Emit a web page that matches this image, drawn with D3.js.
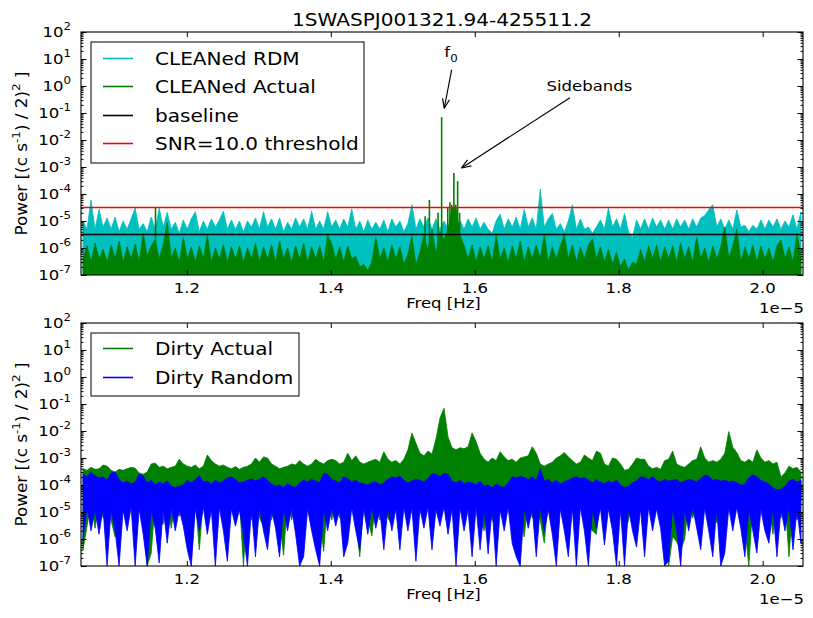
<!DOCTYPE html>
<html>
<head>
<meta charset="utf-8">
<script src="https://cdn.jsdelivr.net/npm/d3@7"></script>
<style>
body { margin: 0; background: #fff; }
text { font-family: "DejaVu Sans", sans-serif; fill: #000; }
</style>
</head>
<body>
<svg id="fig" width="813" height="618"></svg>
<script>
"use strict"

var TITLE = "1SWASPJ001321.94-425511.2";

// periodogram frequency grid (Hz), 180 bins across the plotted range
var FREQ_MIN = 1.053e-5;
var FREQ_MAX = 2.056e-5;
var N_BINS = 180;

var xTicks = [1.2e-5, 1.4e-5, 1.6e-5, 1.8e-5, 2.0e-5];
var xTickLabels = ["1.2", "1.4", "1.6", "1.8", "2.0"];
var yDecades = [-7, -6, -5, -4, -3, -2, -1, 0, 1, 2];

var BASELINE = 3.2e-6;
var SNR = 10.0;

// CLEANed RDM (power per bin)
var rdmClean = [
    1e-5, 5e-6, 6e-5, 5e-6, 2.7e-5, 6e-6, 1.3e-5, 5e-6, 1.4e-5, 4e-6,
    1e-5, 5e-6, 1.2e-5, 3e-5, 5e-6, 8e-6, 4e-6, 1.4e-5, 5e-6, 3e-5,
    6e-6, 2.1e-5, 5e-6, 9e-6, 3.5e-6, 1.1e-5, 5e-6, 1.2e-5, 2.2e-5, 4e-6,
    1e-5, 5e-6, 1.2e-5, 6e-6, 1.1e-5, 2.3e-5, 5e-6, 1.1e-5, 5e-6, 1e-5,
    4e-6, 1e-5, 6e-6, 1.3e-5, 5e-6, 2.2e-5, 6e-6, 1.2e-5, 5e-6, 1.3e-5,
    4e-6, 9e-6, 5e-6, 1.3e-5, 6e-6, 1.2e-5, 5e-6, 2.3e-5, 5e-6, 1e-5,
    5e-6, 2.2e-5, 6e-6, 1.1e-5, 5e-6, 1.2e-5, 6e-6, 2.8e-5, 5e-6, 1e-5,
    4e-6, 1.1e-5, 5e-6, 9e-6, 5e-6, 1.1e-5, 4e-6, 1.2e-5, 6e-6, 1e-5,
    4e-6, 8e-6, 4e-5, 5e-6, 1.2e-5, 6e-6, 1.3e-5, 5e-6, 1.2e-5, 5e-6,
    1e-5, 5e-6, 1.1e-5, 6e-6, 1e-5, 5e-6, 1.2e-5, 6e-6, 1.3e-5, 5e-6,
    9e-6, 5e-6, 3.5e-6, 1e-5, 1.8e-5, 5e-6, 1.2e-5, 6e-6, 1.4e-5, 5e-6,
    2.7e-5, 6e-6, 1.3e-5, 5e-6, 1.5e-4, 6e-6, 1.2e-5, 1.9e-5, 5e-6, 8e-6,
    4e-6, 1e-5, 4e-5, 5e-6, 1.2e-5, 5e-6, 6e-6, 3.5e-6, 6e-6, 1.1e-5,
    5e-6, 3e-5, 6e-6, 1.2e-5, 5e-6, 1.9e-5, 4e-6, 2.5e-6, 1.1e-5, 5e-6,
    1.2e-5, 5e-6, 1.3e-5, 6e-6, 1.1e-5, 5e-6, 1.1e-5, 5e-6, 1.2e-5, 6e-6,
    1.1e-5, 5e-6, 1.2e-5, 6e-6, 1.3e-5, 1.6e-5, 2.6e-5, 4e-5, 6e-6, 1.2e-5,
    5e-6, 1.1e-5, 5e-6, 2.6e-5, 6e-6, 7e-6, 4e-6, 7e-6, 5e-6, 1.1e-5,
    5e-6, 1.1e-5, 6e-6, 1.2e-5, 5e-6, 1e-5, 6e-6, 1.7e-5, 5e-6, 2.2e-5
];

// CLEANed Actual (power per bin)
var actualClean = [
    4e-7, 1.2e-6, 3e-7, 1.5e-6, 4e-7, 9e-7, 3e-7, 1.3e-6, 4e-7, 1.8e-6,
    3e-7, 1.1e-6, 4e-7, 1.4e-6, 3e-7, 3.5e-6, 5e-7, 1.2e-6, 2e-6, 4e-7,
    1.3e-6, 9e-6, 4e-7, 1e-6, 3e-7, 2.5e-6, 4e-7, 1.1e-6, 3e-7, 1.2e-6,
    4e-7, 3e-6, 3e-7, 1e-6, 4e-7, 1.3e-6, 3e-7, 1.1e-6, 4e-7, 1.2e-6,
    3e-7, 1e-6, 4e-7, 1.5e-6, 3e-7, 1.1e-6, 4e-7, 1.3e-6, 3e-7, 1.8e-6,
    4e-7, 1e-6, 3e-7, 1.2e-6, 4e-7, 1.5e-6, 3e-7, 1.1e-6, 4e-7, 1.2e-6,
    3e-7, 3e-6, 1.4e-6, 4e-7, 1.1e-6, 3e-7, 1.2e-6, 4e-7, 5e-7, 2e-7,
    2.5e-7, 1.5e-7, 3e-7, 2.5e-6, 4e-7, 1e-6, 3e-7, 1.3e-6, 4e-7, 1.1e-6,
    2.5e-7, 6e-7, 2.7e-6, 2.5e-7, 7e-7, 3e-6, 8e-7, 5e-6, 6e-7, 4e-6,
    2e-6, 5e-6, 3e-5, 3e-5, 3e-6, 1.2e-6, 4e-7, 1.3e-6, 3e-7, 1.1e-6,
    4e-7, 1.2e-6, 3e-7, 3e-6, 4e-7, 1e-6, 3e-7, 1.2e-6, 4e-7, 1.8e-6,
    3e-7, 1.1e-6, 4e-7, 1.3e-6, 4e-7, 3.2e-6, 3e-7, 1.1e-6, 4e-7, 1.2e-6,
    3e-6, 4e-7, 1.3e-6, 3e-7, 1.1e-6, 4e-7, 1.3e-6, 2.2e-6, 4e-7, 1.1e-6,
    3e-7, 9e-7, 2.5e-7, 7e-7, 2e-7, 4e-7, 1.5e-7, 3e-7, 2.5e-7, 9e-7,
    3e-7, 1.2e-6, 4e-7, 1.3e-6, 3e-7, 1.1e-6, 4e-7, 1.2e-6, 3e-7, 1.5e-6,
    4e-7, 1.1e-6, 3e-7, 2.5e-6, 4e-7, 1e-6, 3e-7, 1.2e-6, 4e-7, 1.1e-6,
    6e-6, 4e-7, 1.2e-6, 5e-6, 3e-7, 1.1e-6, 4e-7, 1.3e-6, 3e-7, 1.2e-6,
    4e-7, 1e-6, 3e-7, 1.2e-6, 2e-6, 4e-7, 1.1e-6, 3e-7, 3.5e-6, 5e-7
];

// narrow lines in the CLEANed Actual spectrum: f0 and its sidebands
var cleanPeakFreq = [1.1565e-5, 1.531e-5, 1.537e-5, 1.549e-5, 1.554e-5, 1.5625e-5,
                     1.5655e-5, 1.568e-5, 1.571e-5, 1.5735e-5, 1.5762e-5, 1.579e-5];
var cleanPeakPower = [3.2e-5, 1.5e-5, 6e-5, 2e-5, 7e-2, 3e-5,
                      5e-5, 4e-5, 6e-4, 4e-5, 3e-4, 2e-5];

// Dirty Actual (max / min power per bin)
var dirtyActualHi = [
    4e-4, 3.5e-4, 4.5e-4, 3.8e-4, 4e-4, 5.5e-4, 5e-4, 3.5e-4, 3e-4, 3.8e-4,
    3.5e-4, 4e-4, 4.5e-4, 4.2e-4, 2.8e-4, 2.5e-4, 3e-4, 6e-4, 6.5e-4, 4.5e-4,
    5e-4, 4e-4, 4.5e-4, 5e-4, 9e-4, 6e-4, 5e-4, 4.5e-4, 5.5e-4, 4e-4,
    5e-4, 1.3e-3, 8e-4, 6e-4, 5e-4, 5.5e-4, 4.5e-4, 4e-4, 4.8e-4, 3.8e-4,
    4.5e-4, 5e-4, 6e-4, 1e-3, 7e-4, 1.1e-3, 1e-3, 6e-4, 5e-4, 4e-4,
    4.5e-4, 5e-4, 6e-4, 5.5e-4, 8e-4, 6e-4, 5e-4, 6e-4, 9e-4, 7e-4,
    6e-4, 8e-4, 9e-4, 8e-4, 6e-4, 7e-4, 1.5e-3, 8e-4, 1.2e-3, 7e-4,
    6e-4, 7e-4, 8e-4, 9e-4, 7e-4, 1.7e-3, 9e-4, 7e-4, 8e-4, 6e-4,
    9e-4, 2e-3, 8.5e-3, 3.5e-3, 1.5e-3, 1.2e-3, 1.8e-3, 1.4e-3, 5e-3, 3e-2,
    7e-2, 6e-3, 2.4e-3, 2e-3, 2.4e-3, 2.2e-3, 2.6e-3, 8.5e-3, 4e-3, 1.5e-3,
    9e-4, 7e-4, 1e-3, 8e-4, 1.7e-3, 1.1e-3, 8e-4, 9e-4, 7e-4, 1e-3,
    1.1e-3, 1.2e-3, 2.6e-3, 1.5e-3, 6e-4, 5e-4, 6e-4, 7e-4, 1e-3, 1.2e-3,
    1.6e-3, 1.1e-3, 8e-4, 6e-4, 7e-4, 1.3e-3, 1e-3, 8e-4, 1.8e-3, 1.5e-3,
    6e-4, 5e-4, 1e-3, 9e-4, 6e-4, 3.5e-4, 3.8e-4, 6e-4, 1e-3, 9e-4,
    9e-4, 5e-4, 4e-4, 4.5e-4, 3.8e-4, 8e-4, 9e-4, 1.8e-3, 6e-4, 5e-4,
    4.5e-4, 6e-4, 8e-4, 9e-4, 2.6e-3, 1e-3, 7e-4, 8e-4, 7e-4, 9e-4,
    1.5e-3, 9.5e-3, 2.5e-3, 1.6e-3, 8e-4, 7e-4, 9e-4, 7e-4, 2e-3, 1e-3,
    7e-4, 8e-4, 6e-4, 7e-4, 2e-4, 2.8e-4, 5e-4, 4e-4, 4.5e-4, 3e-4
];
var dirtyActualLo = [
    4e-7, 3e-6, 3e-5, 2.5e-6, 2.5e-5, 6e-6, 3e-5, 5e-6, 1.2e-6, 2.5e-5,
    3e-5, 6e-6, 2.5e-5, 5e-6, 3e-5, 8e-6, 1e-7, 3e-7, 2.5e-5, 4e-6,
    3.5e-6, 3e-5, 2.5e-6, 3e-5, 7e-6, 2.5e-5, 5e-6, 3e-7, 3e-5, 4e-7,
    3e-5, 4e-6, 2.5e-5, 6e-6, 3e-5, 5e-6, 3.5e-6, 2.5e-5, 4e-6, 3e-5,
    1e-7, 2.5e-5, 5e-6, 3e-5, 6e-6, 3e-6, 3e-5, 5e-6, 2.5e-5, 6e-6,
    2.5e-7, 3e-5, 5e-6, 2.5e-5, 6e-6, 2e-6, 3e-5, 5e-6, 2.5e-5, 6e-6,
    3.5e-7, 3e-5, 5e-6, 2.5e-5, 6e-6, 3e-5, 1.2e-6, 2.5e-5, 5e-6, 2.2e-7,
    3e-5, 6e-6, 1.3e-6, 3e-5, 5e-6, 2.5e-5, 6e-6, 3.5e-6, 3e-5, 5e-6,
    3e-5, 6e-6, 3e-5, 3.5e-7, 3e-5, 5e-6, 3e-5, 6e-6, 4e-5, 1e-5,
    4e-5, 5e-6, 3e-5, 7e-7, 3e-5, 6e-6, 3e-5, 5e-6, 3e-5, 6e-6,
    2e-6, 3e-5, 5e-6, 3e-6, 2.5e-5, 6e-6, 3e-5, 5e-6, 3e-5, 6e-6,
    1.2e-6, 3e-5, 6e-6, 2.5e-5, 5e-6, 7e-7, 3e-5, 5e-6, 3e-6, 3e-5,
    3e-5, 3.8e-6, 2.5e-5, 6e-6, 3e-5, 5e-6, 3e-6, 2e-6, 1.5e-6, 3e-5,
    5e-6, 2.5e-5, 4e-6, 3e-6, 2.5e-5, 2e-6, 5e-6, 3e-5, 6e-6, 3e-5,
    6e-6, 3e-5, 5e-6, 2.5e-5, 6e-6, 3e-5, 1e-7, 1.2e-6, 8e-7, 4e-7,
    1e-6, 3e-5, 6e-6, 2.5e-5, 5e-6, 3e-5, 6e-6, 2.5e-5, 4e-6, 3e-5,
    5e-6, 4e-5, 6e-6, 3e-5, 4e-6, 3e-6, 1e-7, 2.5e-5, 2.5e-6, 3e-5,
    5e-6, 2.5e-5, 1.5e-6, 2.5e-5, 6e-6, 3e-5, 2.2e-7, 2.5e-5, 5e-6, 2.5e-5
];

// Dirty Random (max / min power per bin)
var dirtyRandomHi = [
    2.5e-4, 2e-4, 3e-4, 2.2e-4, 1.8e-4, 2e-4, 1.5e-4, 2.8e-4, 3e-4, 1.6e-4,
    1.2e-4, 1.4e-4, 1.1e-4, 1.3e-4, 2.5e-4, 2.2e-4, 1.2e-4, 1.5e-4, 1e-4, 1.3e-4,
    1.1e-4, 1.4e-4, 9e-5, 8e-5, 9e-5, 1e-4, 1.5e-4, 1.2e-4, 1.6e-4, 2.2e-4,
    1.3e-4, 1.4e-4, 1.1e-4, 1.5e-4, 1.2e-4, 1.4e-4, 1.8e-4, 2e-4, 1.6e-4, 1.2e-4,
    1.3e-4, 1.5e-4, 1.7e-4, 1.4e-4, 1.6e-4, 2e-4, 1.5e-4, 1.1e-4, 9e-5, 1e-4,
    8e-5, 1.1e-4, 9e-5, 8e-5, 1.2e-4, 1.5e-4, 1.3e-4, 1.6e-4, 1.4e-4, 1.2e-4,
    2.7e-4, 2.5e-4, 1.6e-4, 1.4e-4, 1.2e-4, 2e-4, 1.7e-4, 1.3e-4, 1.5e-4, 1.2e-4,
    1.1e-4, 1e-4, 1.2e-4, 1.3e-4, 1e-4, 1.2e-4, 1.6e-4, 2e-4, 1.8e-4, 2.1e-4,
    1.5e-4, 1.2e-4, 1.4e-4, 1.6e-4, 1.5e-4, 1.3e-4, 1.7e-4, 2.6e-4, 2.5e-4, 2e-4,
    2.7e-4, 2.5e-4, 1.4e-4, 1.2e-4, 1.5e-4, 1.1e-4, 1.3e-4, 1.2e-4, 1e-4, 1.4e-4,
    9e-5, 1e-4, 8e-5, 1.1e-4, 9e-5, 8e-5, 1.2e-4, 2e-4, 1.8e-4, 2.1e-4,
    1.9e-4, 1.6e-4, 2e-4, 1.5e-4, 4e-4, 1.4e-4, 1.6e-4, 1.2e-4, 1.5e-4, 1.1e-4,
    1.3e-4, 1.5e-4, 1.8e-4, 2e-4, 1.7e-4, 1.9e-4, 1.5e-4, 1.2e-4, 1.6e-4, 1.3e-4,
    1.1e-4, 1.4e-4, 1.2e-4, 1.5e-4, 1e-4, 8e-5, 9e-5, 1.2e-4, 1.4e-4, 2e-4,
    1.9e-4, 1.6e-4, 2e-4, 1.5e-4, 1.3e-4, 1.6e-4, 1.4e-4, 1.5e-4, 1.6e-4, 1.2e-4,
    1.4e-4, 1.6e-4, 1.5e-4, 1.3e-4, 1.7e-4, 2.3e-4, 2.1e-4, 1.5e-4, 1.6e-4, 1.4e-4,
    1.5e-4, 1.3e-4, 1.4e-4, 1.2e-4, 1e-4, 1.1e-4, 1.8e-4, 2.4e-4, 2e-4, 1.5e-4,
    1.3e-4, 1.1e-4, 8e-5, 6.5e-5, 7e-5, 9e-5, 1.4e-4, 1.6e-4, 1.3e-4, 1.5e-4
];
var dirtyRandomLo = [
    1e-6, 1.5e-5, 2e-6, 1.2e-5, 1.5e-6, 1.4e-5, 1e-7, 1.3e-5, 2e-6, 1e-7,
    1.2e-5, 2e-6, 1.5e-5, 1e-7, 1.3e-5, 1.5e-6, 1e-7, 1.2e-5, 2.5e-6, 1.3e-7,
    1.4e-5, 7e-7, 1.5e-5, 2e-6, 1.2e-5, 3e-6, 4e-7, 1e-7, 1.3e-5, 2e-6,
    1.5e-5, 1.5e-6, 1.2e-5, 1e-7, 1.4e-5, 2e-6, 1.5e-7, 1.3e-5, 3e-6, 1.2e-5,
    1.5e-6, 1e-7, 1.3e-5, 2.2e-7, 1.5e-5, 2e-6, 4e-7, 1.2e-5, 2.5e-6, 2.2e-7,
    1.4e-5, 2e-6, 1.5e-5, 1.5e-6, 1e-7, 2.2e-7, 1.3e-5, 2e-6, 4e-7, 1e-7,
    1.2e-5, 2e-6, 1.5e-5, 3e-6, 1.3e-5, 2.2e-7, 7e-7, 1.4e-5, 2e-6, 4e-7,
    1.3e-5, 1.5e-6, 1.5e-5, 2.5e-6, 1.2e-5, 4e-7, 1.4e-5, 2e-6, 1.3e-5, 4e-7,
    1.5e-5, 2e-6, 1.4e-5, 1.5e-7, 1.3e-5, 2.5e-6, 1.5e-5, 4e-7, 1.2e-5, 3e-6,
    1.5e-5, 1.5e-6, 1.3e-5, 1e-7, 1.4e-5, 2e-6, 1.2e-5, 2.2e-7, 1.5e-5, 4e-7,
    1.3e-5, 2.8e-7, 1.4e-5, 1e-7, 1.2e-5, 2e-6, 1.5e-5, 7e-7, 2.2e-7, 1e-7,
    1.4e-5, 2.5e-6, 1.3e-5, 2.2e-7, 1.5e-5, 2e-6, 1.2e-5, 1.5e-6, 1e-7, 1.3e-5,
    2e-6, 2.2e-7, 1.4e-5, 1e-7, 1.5e-5, 2e-6, 1e-7, 1.2e-5, 2.5e-6, 1.4e-5,
    6e-7, 1.3e-5, 2e-6, 1e-7, 1.2e-5, 1e-7, 1.4e-5, 2e-6, 5e-7, 1.3e-5,
    2.2e-7, 1.5e-5, 2e-6, 1.3e-5, 2.5e-6, 1e-7, 1.5e-7, 1.4e-5, 2e-6, 1e-7,
    1.3e-5, 2e-6, 1.5e-5, 2.5e-6, 4e-7, 1.4e-5, 2e-6, 2.2e-7, 1.3e-5, 1e-7,
    3e-7, 1.4e-5, 2e-6, 1.5e-5, 2.5e-6, 2.2e-7, 1.3e-5, 2e-6, 3e-7, 1.2e-5,
    2e-6, 7e-7, 1.4e-5, 2.2e-7, 1.3e-5, 2e-6, 1.5e-5, 4e-7, 1.2e-5, 7e-7
];

var COLORS = { rdm: "#00bfbf", actual: "#008000", random: "#0000ff", base: "#000000", thresh: "#ff0000" };
var SX = 1.18;   // glyphs in the source render wider than DejaVu at equal height

var svg = d3.select("#fig");
var binStep = (FREQ_MAX - FREQ_MIN) / N_BINS;
var freqs = d3.range(N_BINS).map(function(i) { return FREQ_MIN + (i + 0.5) * binStep; });

var x = d3.scaleLinear().domain([FREQ_MIN, FREQ_MAX]).range([81, 803]);
var yTop = d3.scaleLog().domain([1e-7, 1e2]).range([275, 32]).clamp(true);
var yBot = d3.scaleLog().domain([1e-7, 1e2]).range([566, 323]).clamp(true);

svg.append("defs").selectAll("clipPath")
    .data([["clipTop", yTop], ["clipBot", yBot]]).enter()
    .append("clipPath").attr("id", function(d) { return d[0]; })
    .append("rect")
    .attr("x", 81).attr("y", function(d) { return d[1].range()[1]; })
    .attr("width", 722).attr("height", function(d) { return d[1].range()[0] - d[1].range()[1]; });

function txt(g, s, px, py, size, anchor) {
    return g.append("text")
        .attr("transform", "translate(" + px + "," + py + ") scale(" + SX + ",1)")
        .attr("font-size", size)
        .attr("text-anchor", anchor || "start")
        .text(s);
}

function band(g, y, hi, lo, color) {
    var area = d3.area()
        .x(function(d, i) { return x(freqs[i]); })
        .y0(function(d, i) { return lo ? y(lo[i]) : y.range()[0]; })
        .y1(function(d) { return y(d); });
    g.append("path").datum(hi)
        .attr("d", area)
        .attr("fill", color)
        .attr("stroke", color)
        .attr("stroke-width", 0.8)
        .attr("stroke-linejoin", "miter");
}

function frame(y) {

    var top = y.range()[1], bottom = y.range()[0];
    var g = svg.append("g");
    var minors = [];
    yDecades.slice(0, -1).forEach(function(e) { for (var k = 2; k < 10; k++) minors.push(k * Math.pow(10, e)); });
    var majors = yDecades.map(function(e) { return Math.pow(10, e); });

    function ticks(axis, tx, ty) {
        g.append("g").attr("transform", "translate(" + tx + "," + ty + ")")
            .call(axis.tickSizeOuter(0).tickFormat(""))
            .call(function(a) { a.select(".domain").remove(); a.selectAll("line").attr("stroke-width", 1); });
    }

    ticks(d3.axisBottom(x).tickValues(xTicks).tickSizeInner(-5), 0, bottom);
    ticks(d3.axisTop(x).tickValues(xTicks).tickSizeInner(-5), 0, top);
    ticks(d3.axisLeft(y).tickValues(majors).tickSizeInner(-5.5), 81, 0);
    ticks(d3.axisRight(y).tickValues(majors).tickSizeInner(-5.5), 803, 0);
    ticks(d3.axisLeft(y).tickValues(minors).tickSizeInner(-2.5), 81, 0);
    ticks(d3.axisRight(y).tickValues(minors).tickSizeInner(-2.5), 803, 0);

    g.append("rect").attr("x", 81).attr("y", top).attr("width", 722).attr("height", bottom - top)
        .attr("fill", "none").attr("stroke", "#000").attr("stroke-width", 1.1);

    xTicks.forEach(function(v, i) { txt(g, xTickLabels[i], x(v), bottom + 18, 14, "middle"); });

    yDecades.forEach(function(e) {
        var t = txt(g, null, 71, y(Math.pow(10, e)) + 5, 14, "end");
        t.append("tspan").text("10");
        t.append("tspan").attr("dy", -6.7).attr("font-size", 10).text(String(e));
    });

    txt(g, "Freq [Hz]", 443.5, bottom + 33, 14, "middle");
    txt(g, "1e\u22125", 804, bottom + 37.5, 14, "end");

    var yl = g.append("text")
        .attr("transform", "translate(27," + ((top + bottom) / 2) + ") rotate(-90) scale(1.2,1.12)")
        .attr("font-size", 14).attr("text-anchor", "middle");
    yl.append("tspan").text("Power [(c s");
    yl.append("tspan").attr("dy", -6).attr("font-size", 10).text("-1");
    yl.append("tspan").attr("dy", 6).text(") / 2)");
    yl.append("tspan").attr("dy", -6).attr("font-size", 10).text("2");
    yl.append("tspan").attr("dy", 6).text(" ]");
}

function legend(bx, by, bw, bh, rows) {

    var g = svg.append("g");
    g.append("rect").attr("x", bx).attr("y", by).attr("width", bw).attr("height", bh)
        .attr("fill", "#fff").attr("stroke", "#000").attr("stroke-width", 1);

    rows.forEach(function(r) {
        g.append("line").attr("x1", 103).attr("x2", 133).attr("y1", r.y).attr("y2", r.y)
            .attr("stroke", r.color).attr("stroke-width", 1.6);
        txt(g, r.label, 155, r.y + 6, 17, "start");
    });
}

function arrow(g, x0, y0, x1, y1) {

    var a = Math.atan2(y1 - y0, x1 - x0);
    var len = 10, spread = 0.36;
    g.append("line").attr("x1", x0).attr("y1", y0).attr("x2", x1).attr("y2", y1)
        .attr("stroke", "#000").attr("stroke-width", 1.2);
    [-spread, spread].forEach(function(s) {
        g.append("line").attr("x1", x1).attr("y1", y1)
            .attr("x2", x1 - len * Math.cos(a + s)).attr("y2", y1 - len * Math.sin(a + s))
            .attr("stroke", "#000").attr("stroke-width", 1.2);
    });
}

// ---- top panel : CLEANed spectra
var gTop = svg.append("g").attr("clip-path", "url(#clipTop)");
band(gTop, yTop, rdmClean, null, COLORS.rdm);
band(gTop, yTop, actualClean, null, COLORS.actual);

gTop.selectAll(".peak").data(cleanPeakFreq).enter()
    .append("line").attr("class", "peak")
    .attr("x1", function(d) { return x(d); }).attr("x2", function(d) { return x(d); })
    .attr("y1", yTop.range()[0])
    .attr("y2", function(d, i) { return yTop(cleanPeakPower[i]); })
    .attr("stroke", COLORS.actual).attr("stroke-width", 1.6);

// baseline and threshold, snapped to the pixel grid so they stay solid
[[BASELINE, COLORS.base], [BASELINE * SNR, COLORS.thresh]].forEach(function(h) {
    var py = Math.round(yTop(h[0])) + 0.5;
    gTop.append("line").attr("x1", 81).attr("x2", 803)
        .attr("y1", py).attr("y2", py)
        .attr("stroke", h[1]).attr("stroke-width", 1.6);
});

frame(yTop);

legend(91, 42, 273, 121, [
    { label: "CLEANed RDM", color: COLORS.rdm, y: 58.5 },
    { label: "CLEANed Actual", color: COLORS.actual, y: 86.5 },
    { label: "baseline", color: COLORS.base, y: 115.5 },
    { label: "SNR=" + SNR.toFixed(1) + " threshold", color: COLORS.thresh, y: 143.5 }
]);

// annotations (data coordinates)
var annoText = [{ s: "f", sub: "0", f: 1.567e-5, p: 11.6 }, { s: "Sidebands", sub: "", f: 1.7593e-5, p: 0.67 }];
var annoArrow = [
    { f0: 1.5679e-5, p0: 4.0, f1: 1.5576e-5, p1: 0.15 },
    { f0: 1.7322e-5, p0: 0.37, f1: 1.5817e-5, p1: 9.2e-4 }
];
var gAnno = svg.append("g");
annoText.forEach(function(a) {
    var t = txt(gAnno, null, x(a.f), yTop(a.p), 14, "middle");
    t.append("tspan").text(a.s);
    if (a.sub) t.append("tspan").attr("dy", 5).attr("font-size", 10).text(a.sub);
});
annoArrow.forEach(function(a) { arrow(gAnno, x(a.f0), yTop(a.p0), x(a.f1), yTop(a.p1)); });

txt(svg, TITLE, 442, 26, 17, "middle");

// ---- bottom panel : dirty spectra
var gBot = svg.append("g").attr("clip-path", "url(#clipBot)");
band(gBot, yBot, dirtyActualHi, dirtyActualLo, COLORS.actual);
band(gBot, yBot, dirtyRandomHi, dirtyRandomLo, COLORS.random);

frame(yBot);

legend(91, 333, 208, 63, [
    { label: "Dirty Actual", color: COLORS.actual, y: 348.5 },
    { label: "Dirty Random", color: COLORS.random, y: 377.5 }
]);

</script>
</body>
</html>
